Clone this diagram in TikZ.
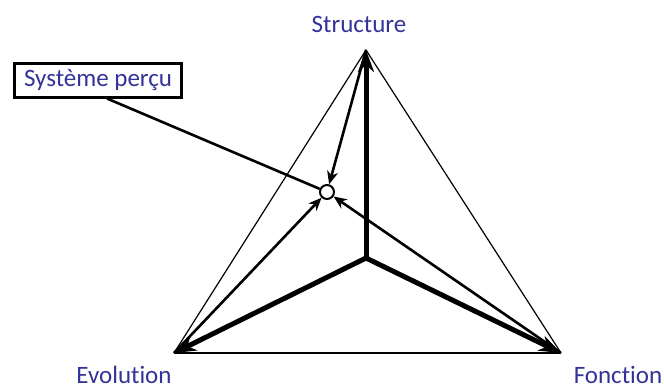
\documentclass[tikz,border=0pt]{standalone}
\usepackage{fontspec}
\setmainfont{Carlito}[Ligatures=NoCommon]
\usetikzlibrary{arrows.meta}
\definecolor{labelblue}{RGB}{51,51,153}

\begin{document}
\begin{tikzpicture}[
  x=1pt, y=-1pt,
  every node/.style={font=\fontsize{25}{29}\selectfont, text=labelblue},
  corner label/.style={anchor=base, inner sep=0pt},
  side/.style={line width=1.2pt},
  base side/.style={line width=2.6pt},
  axis/.style={line width=5pt, -{Stealth[length=22pt,width=16pt,inset=7pt]}},
  view/.style={line width=2.6pt, -{Stealth[length=13pt,width=11pt,inset=4pt]}},
  framed/.style={draw=black, line width=3pt, minimum width=167pt, minimum height=34pt, inner sep=0pt, fill=white},
  eye/.style={circle, draw=black, line width=2pt, minimum size=14pt, inner sep=0pt, fill=white}
]
  \useasboundingbox (0,0) rectangle (664,388);
  % corners and centre
  \coordinate (S) at (366,50);
  \coordinate (E) at (174,353);
  \coordinate (F) at (561,353);
  \coordinate (C) at (366,258);
  \node[eye] (P) at (327,192) {};
  % labels
  \node[corner label] (lblS) at (359,32) {Structure};
  \node[corner label] (lblE) at (124,383) {Evolution};
  \node[corner label] (lblF) at (618,383) {Fonction};
  \node[framed] (box) at (98,80) {Système perçu};
  % triangle
  \draw[side] (E) -- (S) -- (F);
  \draw[base side] (E) -- (F);
  % axes
  \draw[axis] (C) -- (S);
  \draw[axis] (C) -- (E);
  \draw[axis] (C) -- (F);
  % views onto the system
  \draw[view] (S) -- (P);
  \draw[view] (E) -- (P);
  \draw[view] (F) -- (P);
  \draw[base side] ([xshift=9pt]box.south) -- (P);
\end{tikzpicture}
\end{document}
